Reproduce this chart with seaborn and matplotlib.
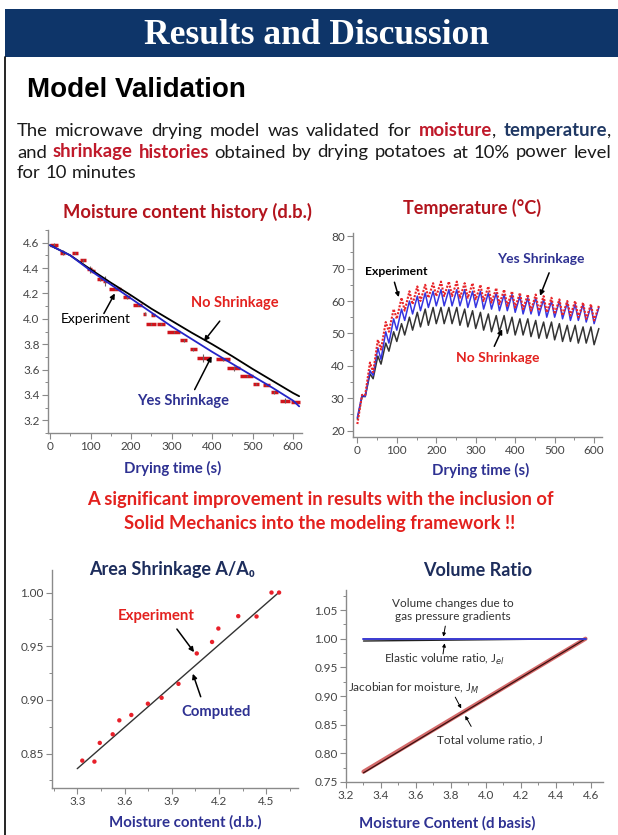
import matplotlib
matplotlib.use("Agg")
import matplotlib.pyplot as plt
import numpy as np
import seaborn as sns
from matplotlib.lines import Line2D
from matplotlib.patches import Rectangle
from matplotlib.ticker import MultipleLocator, AutoMinorLocator, FormatStrFormatter

sns.set_theme(style="ticks")
plt.rcParams["font.family"] = ["Lato", "DejaVu Sans"]

W, H = 618, 835

# ---------------- data ----------------
# moisture content history (d.b.)
mc_time = [0, 50, 100, 150, 200, 250, 300, 350, 400, 450, 500, 550, 600, 615]
mc_no_shrink = [4.58, 4.50, 4.39, 4.285, 4.185, 4.08, 3.985, 3.89, 3.80, 3.705, 3.605, 3.51, 3.415, 3.39]
mc_yes_shrink = [4.58, 4.50, 4.38, 4.27, 4.16, 4.05, 3.94, 3.84, 3.74, 3.645, 3.55, 3.455, 3.355, 3.31]
exp_t0 = [0, 25, 55, 75, 92, 100, 115, 130, 145, 180, 205, 230, 238, 250, 265, 288, 322, 345, 362,
          410, 438, 470, 500, 525, 545, 568, 595]
exp_t1 = [20, 38, 70, 88, 103, 112, 130, 140, 175, 198, 228, 238, 262, 258, 285, 322, 338, 362, 395,
          445, 470, 500, 517, 543, 562, 592, 616]
exp_mc = [4.58, 4.52, 4.52, 4.46, 4.39, 4.38, 4.31, 4.30, 4.235, 4.17, 4.11, 4.04, 3.96, 4.03, 3.96,
          3.895, 3.83, 3.76, 3.69, 3.68, 3.61, 3.55, 3.485, 3.48, 3.42, 3.355, 3.345]
exp_err = [0.02, 0.02, 0.01, 0.01, 0.03, 0.01, 0.01, 0.04, 0.01, 0.01, 0.01, 0.01, 0.01, 0.01, 0.01,
           0.01, 0.01, 0.01, 0.03, 0.01, 0.02, 0.01, 0.01, 0.01, 0.01, 0.02, 0.01]

# temperature: values at the cycle troughs (t = 0, 20, ... 600) and peaks (t = 12, 32, ... 612)
trough_time = list(range(0, 601, 20))
peak_time = list(range(12, 613, 20))
exp_trough = [22, 31, 38, 45, 50.5, 54.5, 57, 59, 60, 61, 61.5, 61.5, 61.5, 61, 61, 60.5, 60, 59.5, 59,
              58.5, 58, 57.5, 57, 57, 56.5, 56, 55.5, 55.5, 55, 54.5, 54]
exp_peak = [31, 41, 48, 53.5, 57.5, 61, 63, 64.5, 65, 65.5, 66, 66, 66, 65.5, 65.5, 65, 64.5, 64, 63.5,
            63, 62.5, 62, 62, 61.5, 61, 60.5, 60, 60, 59.5, 59, 58.5]
yes_trough = [24, 30.5, 37, 42, 47, 51, 54, 56, 57, 58, 58.5, 58.5, 58.5, 58.5, 58, 58, 57.5, 57.5, 57,
              57, 56.5, 56, 56, 55.5, 55, 55, 54.5, 54, 54, 53.5, 53]
yes_peak = [31, 38.5, 45.5, 50.5, 54.5, 57.5, 60, 61.5, 62.5, 63, 63.5, 63.5, 63.5, 63.5, 63, 63, 62.5,
            62.5, 62, 62, 61.5, 61, 61, 60.5, 60, 60, 59.5, 59, 59, 58.5, 58]
no_trough = [23.5, 30.5, 36, 40.5, 44.5, 47.5, 49.5, 51, 52, 52.5, 53, 53, 53, 52.5, 52, 51.5, 51, 50.5,
             50.5, 50, 49.5, 49.5, 49, 48.5, 48.5, 48, 47.5, 47.5, 47, 47, 46.5]
no_peak = [30.5, 37.5, 43, 47, 50.5, 53, 55, 56.5, 57.5, 58, 58, 58, 58, 57.5, 57, 56.5, 56, 55.5, 55.5,
           55, 54.5, 54.5, 54, 53.5, 53.5, 53, 52.5, 52.5, 52, 52, 51.5]

# area shrinkage
area_mc = [3.332, 3.409, 3.443, 3.525, 3.567, 3.643, 3.748, 3.835, 3.942, 4.058, 4.155, 4.195, 4.321,
           4.437, 4.532, 4.580]
area_ratio = [0.8435, 0.8426, 0.860, 0.868, 0.881, 0.886, 0.8965, 0.902, 0.915, 0.9433, 0.954, 0.9665,
              0.978, 0.9777, 1.000, 1.000]
area_fit_mc = [3.30, 4.57]
area_fit = [0.836, 0.999]

# volume ratio
vol_mc = [3.30, 4.57]
vol_gas = [1.000, 1.000]
vol_elastic = [0.996, 1.000]
vol_moist = [0.768, 1.000]
vol_total = [0.766, 1.000]

# ---------------- colours ----------------
BANNER = "#0e3569"
DARKRED = "#b3141d"
RED = "#e3211e"
NAVY = "#2e3192"
DNAVY = "#1d2d5c"
TXT = "#1a1a1a"
GRID = "#8a8a8a"

fig = plt.figure(figsize=(W / 100, H / 100), dpi=100)
renderer = fig.canvas.get_renderer()


def fx(x):
    return x / W


def fy(y):
    return 1 - y / H


def ftext(x, y, s, **kw):
    kw.setdefault("ha", "center")
    kw.setdefault("va", "center")
    return fig.text(fx(x), fy(y), s, **kw)


# header banner and border
fig.add_artist(Rectangle((fx(5), fy(57)), 1 - fx(5), (57 - 9) / H, color=BANNER, lw=0))
fig.add_artist(Line2D([fx(5), fx(5)], [0, fy(57)], color="black", lw=1.2))
ftext(316, 44, "Results and Discussion", color="white", fontsize=25.5, fontweight="bold",
      family=["Liberation Serif", "DejaVu Serif"], va="baseline")
ftext(27, 97, "Model Validation", color="black", fontsize=20, fontweight="bold",
      family=["Liberation Sans Narrow", "Liberation Sans"], ha="left", va="baseline")


def space_width(size):
    a = fig.text(0, 0, "a a", fontsize=size)
    b = fig.text(0, 0, "aa", fontsize=size)
    gap = a.get_window_extent(renderer).width - b.get_window_extent(renderer).width
    a.remove()
    b.remove()
    return gap


def put_line(y, words, size, x0=17, x1=611, justify=True):
    items = []
    for word in words:
        parts = []
        for txt, color, weight in word:
            t = ftext(0, y, txt, fontsize=size, color=color, fontweight=weight, ha="left", va="baseline")
            parts.append((t, t.get_window_extent(renderer).width))
        items.append(parts)
    total = sum(w for parts in items for _, w in parts)
    gap = space_width(size)
    if justify:
        gap = max(gap, (x1 - x0 - total) / (len(items) - 1))
    x = x0
    for parts in items:
        for t, w in parts:
            t.set_x(fx(x))
            x += w
        x += gap


def plain(s):
    return [[(w, TXT, "normal")] for w in s.split()]


PSIZE = 13.3
put_line(136, plain("The microwave drying model was validated for")
         + [[("moisture", "#c0192a", "bold"), (",", TXT, "normal")],
            [("temperature", "#1f3864", "bold"), (",", TXT, "normal")]], PSIZE)
put_line(157.5, plain("and") + [[("shrinkage", "#c0192a", "bold")], [("histories", "#c0192a", "bold")]]
         + plain("obtained by drying potatoes at 10% power level"), PSIZE)
put_line(178.5, plain("for 10 minutes"), PSIZE, justify=False)

ftext(320, 500, "A significant improvement in results with the inclusion of", color=RED,
      fontsize=13.2, fontweight="bold")
ftext(320, 524, "Solid Mechanics into the modeling framework !!", color=RED,
      fontsize=13.2, fontweight="bold")


def style_axes(ax):
    sns.despine(ax=ax)
    for side in ("left", "bottom"):
        ax.spines[side].set_color(GRID)
        ax.spines[side].set_linewidth(1.0)
    ax.tick_params(which="major", direction="out", length=4, width=0.8, color=GRID,
                   labelsize=8.5, labelcolor="#444444", pad=2)
    ax.tick_params(which="minor", direction="out", length=2.2, width=0.7, color=GRID)
    ax.set_facecolor("white")
    ax.set_xlabel("")
    ax.set_ylabel("")


def arrow(ax, tail, head, lw=1.1, ms=7):
    ax.annotate("", xy=head, xytext=tail,
                arrowprops=dict(arrowstyle="-|>", color="black", lw=lw, mutation_scale=ms,
                                shrinkA=0, shrinkB=0))


# ---------------- moisture content history ----------------
ax1 = fig.add_axes([fx(48), fy(433), (302 - 48) / W, (433 - 230) / H])
ax1.hlines(exp_mc, exp_t0, exp_t1, color="#d0141c", lw=2.5, zorder=2)
exp_mid = (np.array(exp_t0) + np.array(exp_t1)) / 2
ax1.errorbar(exp_mid, exp_mc, yerr=exp_err, fmt="none", ecolor="#6f5f5f", elinewidth=0.8, zorder=2)
sns.lineplot(x=mc_time, y=mc_no_shrink, color="black", lw=1.3, ax=ax1, zorder=3)
sns.lineplot(x=mc_time, y=mc_yes_shrink, color="#2424c8", lw=1.3, ax=ax1, zorder=3)
ax1.set_xlim(-5, 622)
ax1.set_ylim(3.1, 4.7)
ax1.xaxis.set_major_locator(MultipleLocator(100))
ax1.xaxis.set_minor_locator(AutoMinorLocator(2))
ax1.yaxis.set_major_locator(MultipleLocator(0.2))
ax1.yaxis.set_minor_locator(AutoMinorLocator(2))
ax1.yaxis.set_major_formatter(FormatStrFormatter("%.1f"))
style_axes(ax1)
ax1.text(113, 3.995, "Experiment", ha="center", va="center", fontsize=10, color="black")
arrow(ax1, (133, 4.042), (160, 4.20))
ax1.text(456, 4.126, "No Shrinkage", ha="center", va="center", fontsize=10.5, color=RED, fontweight="bold")
arrow(ax1, (419, 3.982), (380, 3.824))
ax1.text(329, 3.35, "Yes Shrinkage", ha="center", va="center", fontsize=10.5, color=NAVY, fontweight="bold")
arrow(ax1, (357, 3.442), (399, 3.705))
ftext(187, 212, "Moisture content history (d.b.)", color=DARKRED, fontsize=13.2, fontweight="bold")
ftext(173, 468, "Drying time (s)", color=NAVY, fontsize=10.8, fontweight="bold")

# ---------------- temperature ----------------
ax2 = fig.add_axes([fx(353), fy(437), (602 - 353) / W, (437 - 233) / H])


def zigzag(trough, peak):
    t, v = [], []
    for i in range(len(peak)):
        t += [trough_time[i], peak_time[i]]
        v += [trough[i], peak[i]]
    return t, v


for tr, pk, col, ls, lw in [(no_trough, no_peak, "#333333", "-", 1.1),
                            (yes_trough, yes_peak, "#3535e0", "-", 1.1),
                            (exp_trough, exp_peak, "#e8262a", (0, (1, 0.7)), 1.5)]:
    t, v = zigzag(tr, pk)
    sns.lineplot(x=t, y=v, color=col, lw=lw, linestyle=ls, ax=ax2, sort=False)
ax2.set_xlim(-11, 620)
ax2.set_ylim(18, 81)
ax2.xaxis.set_major_locator(MultipleLocator(100))
ax2.xaxis.set_minor_locator(AutoMinorLocator(2))
ax2.yaxis.set_major_locator(MultipleLocator(10))
ax2.yaxis.set_minor_locator(AutoMinorLocator(2))
style_axes(ax2)
ax2.text(98, 69.2, "Experiment", ha="center", va="center", fontsize=8.7, color="black", fontweight="bold")
arrow(ax2, (94, 65.8), (105, 61.2), ms=6)
ax2.text(465, 73.1, "Yes Shrinkage", ha="center", va="center", fontsize=10, color=NAVY, fontweight="bold")
arrow(ax2, (486, 68.7), (463, 61.6))
ax2.text(357, 42.4, "No Shrinkage", ha="center", va="center", fontsize=10, color=RED, fontweight="bold")
arrow(ax2, (347, 46.0), (367, 51.3))
ftext(472, 208, "Temperature (°C)", color=DARKRED, fontsize=13, fontweight="bold")
ftext(481, 470, "Drying time (s)", color=NAVY, fontsize=10.8, fontweight="bold")

# ---------------- area shrinkage ----------------
ax3 = fig.add_axes([fx(52), fy(788), (298 - 52) / W, (788 - 570) / H])
sns.lineplot(x=area_fit_mc, y=area_fit, color="#333333", lw=1.0, ax=ax3)
sns.scatterplot(x=area_mc, y=area_ratio, color="#e8202a", s=10, edgecolor="none", ax=ax3, zorder=3)
ax3.set_xlim(3.14, 4.70)
ax3.set_ylim(0.818, 1.021)
ax3.xaxis.set_major_locator(MultipleLocator(0.3))
ax3.xaxis.set_minor_locator(AutoMinorLocator(2))
ax3.yaxis.set_major_locator(MultipleLocator(0.05))
ax3.yaxis.set_minor_locator(AutoMinorLocator(2))
ax3.xaxis.set_major_formatter(FormatStrFormatter("%.1f"))
ax3.yaxis.set_major_formatter(FormatStrFormatter("%.2f"))
style_axes(ax3)
ax3.text(3.80, 0.978, "Experiment", ha="center", va="center", fontsize=10.8, color=RED, fontweight="bold")
arrow(ax3, (3.932, 0.966), (4.041, 0.9445))
ax3.text(4.178, 0.889, "Computed", ha="center", va="center", fontsize=10.7, color=NAVY, fontweight="bold")
arrow(ax3, (4.083, 0.903), (4.033, 0.9244))
ftext(172, 570, "Area Shrinkage A/A₀", color=DNAVY, fontsize=13, fontweight="bold")
ftext(185, 822, "Moisture content (d.b.)", color=NAVY, fontsize=10.8, fontweight="bold")

# ---------------- volume ratio ----------------
ax4 = fig.add_axes([fx(346), fy(782), (603 - 346) / W, (782 - 590) / H])
sns.lineplot(x=vol_mc, y=vol_moist, color="#d46a6a", lw=3.0, ax=ax4)
sns.lineplot(x=vol_mc, y=vol_total, color="#3a1010", lw=0.9, ax=ax4)
sns.lineplot(x=vol_mc, y=vol_elastic, color="#222222", lw=1.0, ax=ax4)
sns.lineplot(x=vol_mc, y=vol_gas, color="#3a3ad0", lw=1.4, ax=ax4)
ax4.set_xlim(3.2, 4.67)
ax4.set_ylim(0.75, 1.085)
ax4.xaxis.set_major_locator(MultipleLocator(0.2))
ax4.xaxis.set_minor_locator(AutoMinorLocator(2))
ax4.yaxis.set_major_locator(MultipleLocator(0.05))
ax4.yaxis.set_minor_locator(AutoMinorLocator(2))
ax4.xaxis.set_major_formatter(FormatStrFormatter("%.1f"))
ax4.yaxis.set_major_formatter(FormatStrFormatter("%.2f"))
style_axes(ax4)
small = dict(ha="center", va="center", fontsize=8.5, color="#333333")
ax4.text(3.812, 1.05, "Volume changes due to\ngas pressure gradients", linespacing=1.25, **small)
arrow(ax4, (3.768, 1.022), (3.757, 1.0036), lw=0.7, ms=5)
ax4.text(3.764, 0.963, r"Elastic volume ratio, J$_{el}$", **small)
arrow(ax4, (3.755, 0.9734), (3.764, 0.992), lw=0.7, ms=5)
ax4.text(3.586, 0.914, r"Jacobian for moisture, J$_{M}$", **small)
arrow(ax4, (3.825, 0.898), (3.859, 0.8783), lw=0.7, ms=5)
ax4.text(4.021, 0.8237, "Total volume ratio, J", **small)
arrow(ax4, (3.916, 0.847), (3.882, 0.8655), lw=0.7, ms=5)
ftext(478, 570, "Volume Ratio", color=DNAVY, fontsize=13, fontweight="bold")
ftext(447, 823, "Moisture Content (d basis)", color=NAVY, fontsize=10.8, fontweight="bold")

fig.savefig("out.png", dpi=100, facecolor="white")
